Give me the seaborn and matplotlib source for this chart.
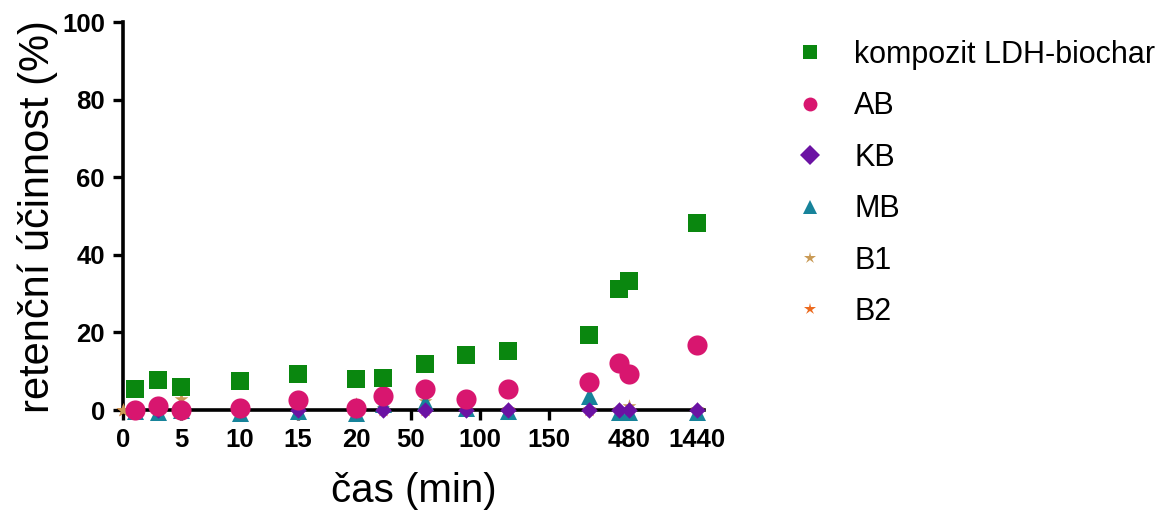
import numpy as np
import pandas as pd
import seaborn as sns
import matplotlib
matplotlib.use("Agg")
import matplotlib.pyplot as plt
from matplotlib.lines import Line2D

# časy odběru (min)
cas = [0, 1, 3, 5, 10, 15, 20, 30, 60, 90, 120, 240, 420, 480, 1440]

# retenční účinnost (%), None = bod chybí
ldh = [None, 5.4, 7.7, 5.9, 7.6, 9.2, 8.0, 8.2, 11.8, 14.2, 15.2, 19.3, 31.1, 33.2, 48.2]
ab = [None, 0.0, 1.0, 0.0, 0.6, 2.6, 0.6, 3.6, 5.4, 2.8, 5.4, 7.1, 12.0, 9.3, 16.8]
kb = [None, 0.0, 0.0, 0.0, 0.0, 0.0, 0.0, 0.0, 0.0, 0.0, 0.0, 0.0, 0.0, 0.0, 0.0]
mb = [None, -0.3, -0.5, 0.0, -0.8, -0.3, -0.8, 1.5, 2.0, 0.5, -0.3, 3.5, -0.5, -0.5, -0.5]
b1 = [0.0, 0.5, 0.3, 2.8, 0.3, 0.3, 1.5, 0.5, 2.2, 0.3, 0.3, 0.3, 0.3, 1.0, 0.3]
b2 = [0.0, 0.0, 0.0, 0.0, 0.0, 0.0, 0.0, 0.0, 0.0, 0.0, 0.0, 0.0, 0.0, 0.0, 0.0]

nazvy = ["kompozit LDH-biochar", "AB", "KB", "MB", "B1", "B2"]
hodnoty = [ldh, ab, kb, mb, b1, b2]
barvy = ["#0a870f", "#d8166f", "#6b12a3", "#17839a", "#c99a55", "#ec6a1e"]
znacky = ["s", "o", "D", "^", "*", "*"]
velikosti = [170, 210, 70, 150, 110, 110]

tick_cas = [0, 5, 10, 15, 20, 50, 100, 150, 480, 1440]

# segmentovaná osa x (jako v GraphPadu)
seg_min = [0, 20, 25, 150, 200, 520, 1380, 1500]
seg_pos = [0, 234, 254, 428, 461, 515, 567, 585]


def fwd(x):
    return np.interp(x, seg_min, seg_pos)


def inv(p):
    return np.interp(p, seg_pos, seg_min)


sns.set_style("ticks")
plt.rcParams['font.family'] = ['Liberation Sans', 'DejaVu Sans']
plt.rcParams['text.color'] = 'black'
plt.rcParams['axes.labelcolor'] = 'black'
plt.rcParams['xtick.color'] = 'black'
plt.rcParams['ytick.color'] = 'black'

fig = plt.figure(figsize=(11.66, 5.16), dpi=100)
ax = fig.add_axes([0.1055, 0.2054, 0.4985, 0.7516])

# kreslit odzadu, aby zelené čtverce byly navrchu
for i in reversed(range(len(nazvy))):
    df = pd.DataFrame({"cas": cas, "val": hodnoty[i]}).dropna()
    sns.scatterplot(data=df, x="cas", y="val", ax=ax, color=barvy[i],
                    marker=znacky[i], s=velikosti[i], linewidth=0,
                    clip_on=False, zorder=3 + (len(nazvy) - i), legend=False)

ax.set_xscale("function", functions=(fwd, inv))
ax.set_xlim(0, 1490)
ax.set_ylim(0, 100)
ax.set_xticks(tick_cas)
ax.set_xticklabels([str(t) for t in tick_cas])
ax.set_yticks([0, 20, 40, 60, 80, 100])
ax.minorticks_off()

for sp in ["top", "right"]:
    ax.spines[sp].set_visible(False)
for sp in ["left", "bottom"]:
    ax.spines[sp].set_linewidth(2.6)
    ax.spines[sp].set_color("black")
ax.tick_params(width=2.4, length=7, labelsize=18.5, pad=6)
for lab in ax.get_xticklabels() + ax.get_yticklabels():
    lab.set_fontweight("bold")

ax.set_xlabel("čas (min)", fontsize=29, labelpad=14)
ax.set_ylabel("retenční účinnost (%)", fontsize=30, labelpad=3)

handles = [Line2D([], [], linestyle="none", marker=znacky[i], color=barvy[i],
                  markersize=10 if znacky[i] != "*" else 9, markeredgewidth=0)
           for i in range(len(nazvy))]
fig.legend(handles, nazvy, loc="upper left", bbox_to_anchor=(0.671, 0.946),
           frameon=False, fontsize=22, handletextpad=0.95, labelspacing=0.7,
           handlelength=1.0, borderaxespad=0)

fig.savefig("out.png", dpi=100)
